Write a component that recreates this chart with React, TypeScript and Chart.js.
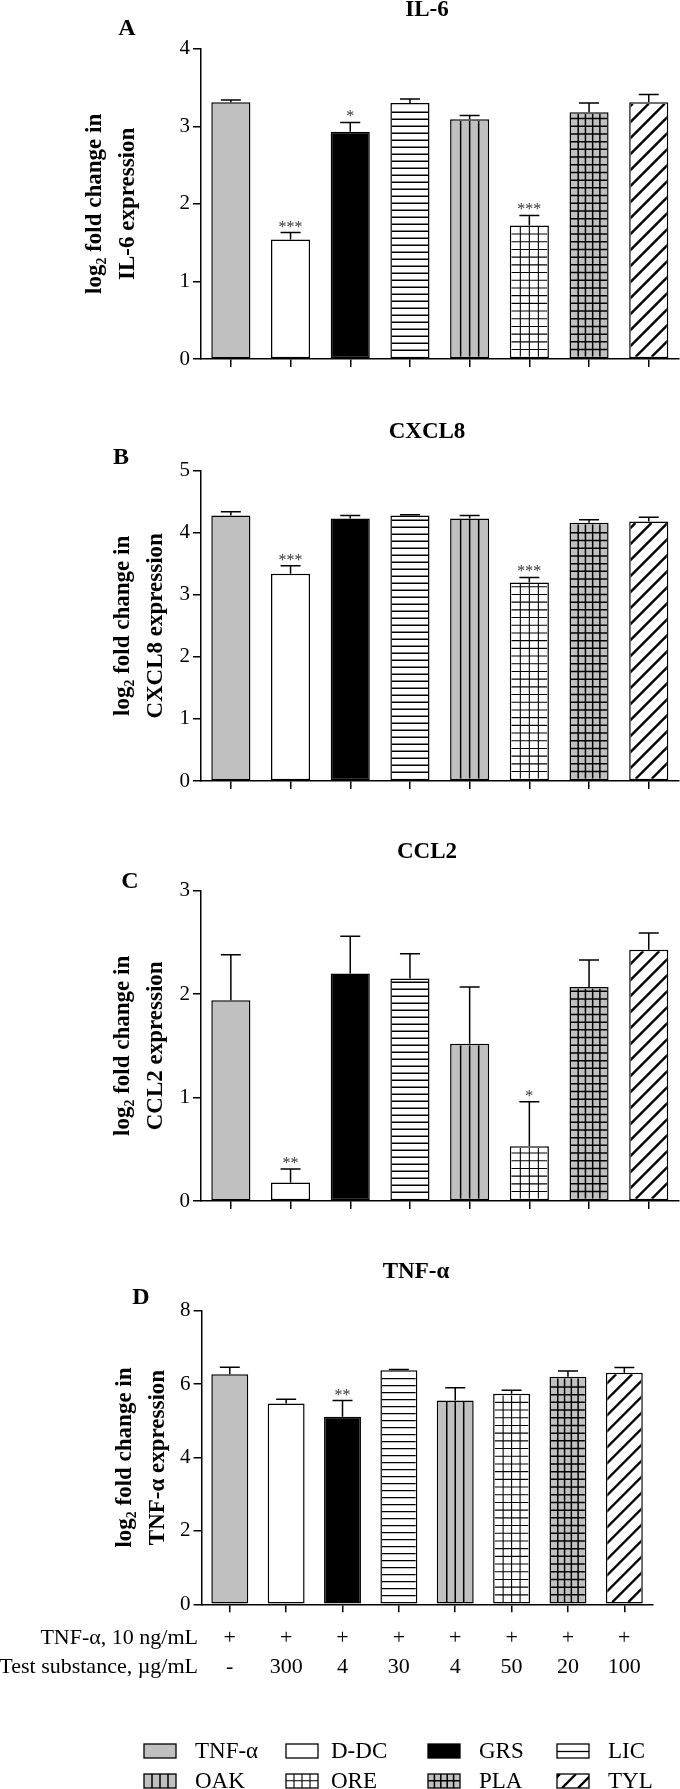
import React, { useEffect, useRef } from "react";
import { Chart, registerables } from "chart.js";

Chart.register(...registerables);

// ---------- data ----------
const categories = ["TNF-α", "D-DC", "GRS", "LIC", "OAK", "ORE", "PLA", "TYL"];

const il6Values = [3.31, 1.54, 2.93, 3.3, 3.09, 1.72, 3.18, 3.31];
const il6Errors = [0.03, 0.09, 0.12, 0.05, 0.05, 0.13, 0.12, 0.1];
const il6Sig = ["", "***", "*", "", "", "***", "", ""];

const cxcl8Values = [4.28, 3.34, 4.23, 4.28, 4.23, 3.2, 4.16, 4.18];
const cxcl8Errors = [0.06, 0.13, 0.05, 0.01, 0.05, 0.08, 0.05, 0.07];
const cxcl8Sig = ["", "***", "", "", "", "***", "", ""];

const ccl2Values = [1.94, 0.18, 2.2, 2.15, 1.52, 0.53, 2.07, 2.43];
const ccl2Errors = [0.44, 0.13, 0.36, 0.24, 0.55, 0.43, 0.26, 0.16];
const ccl2Sig = ["", "**", "", "", "", "*", "", ""];

const tnfValues = [6.27, 5.47, 5.11, 6.38, 5.55, 5.74, 6.2, 6.31];
const tnfErrors = [0.19, 0.12, 0.44, 0.02, 0.35, 0.09, 0.16, 0.14];
const tnfSig = ["", "", "**", "", "", "", "", ""];

const treatmentRow = ["+", "+", "+", "+", "+", "+", "+", "+"];
const doseRow = ["-", "300", "4", "30", "4", "50", "20", "100"];
const rowLabels = ["TNF-α, 10 ng/mL", "Test substance, µg/mL"];

// ---------- styles ----------
const SERIF = "'Liberation Serif', 'Times New Roman', 'DejaVu Serif', serif";
const GRAY = "#c0c0c0";
type Hatch = "none" | "h" | "v" | "grid4" | "grid5" | "diag";
const barFills: { bg: string; hatch: Hatch }[] = [
  { bg: GRAY, hatch: "none" },
  { bg: "#ffffff", hatch: "none" },
  { bg: "#000000", hatch: "none" },
  { bg: "#ffffff", hatch: "h" },
  { bg: GRAY, hatch: "v" },
  { bg: "#ffffff", hatch: "grid4" },
  { bg: GRAY, hatch: "grid5" },
  { bg: "#ffffff", hatch: "diag" },
];

Chart.defaults.font.family = SERIF;

function drawHatch(ctx: CanvasRenderingContext2D, kind: Hatch, l: number, t: number, r: number, b: number) {
  if (kind === "none" || r <= l || b <= t) return;
  const w = r - l;
  ctx.save();
  ctx.beginPath();
  ctx.rect(l, t, w, b - t);
  ctx.clip();
  ctx.strokeStyle = "#000";
  ctx.beginPath();
  if (kind === "h") {
    ctx.lineWidth = 1.3;
    for (let y = b - 6.5; y > t + 1; y -= 7) {
      ctx.moveTo(l, y);
      ctx.lineTo(r, y);
    }
  } else if (kind === "v" || kind === "grid4" || kind === "grid5") {
    const n = kind === "grid5" ? 5 : 4;
    ctx.lineWidth = kind === "grid4" ? 1.1 : 1.5;
    for (let k = 1; k < n; k++) {
      const x = l + (w * k) / n;
      ctx.moveTo(x, t);
      ctx.lineTo(x, b);
    }
    if (kind !== "v") {
      for (let y = b - 7.2; y > t + 1; y -= 7.7) {
        ctx.moveTo(l, y);
        ctx.lineTo(r, y);
      }
    }
  } else if (kind === "diag") {
    ctx.lineWidth = 2.4;
    const h = b - t;
    for (let x0 = l + 5 - Math.ceil(h / 16) * 16; x0 < r; x0 += 16) {
      ctx.moveTo(x0, b);
      ctx.lineTo(x0 + h, t);
    }
  }
  ctx.stroke();
  ctx.restore();
}

interface PanelCfg {
  letter: string;
  title: string;
  yLines: string[];
  values: number[];
  errors: number[];
  sig: string[];
  max: number;
  step: number;
  height: number;
  chartTop: number;
  chartBottom: number;
  yWidth: number;
  padRight: number;
  titleX: number;
  titleY: number;
  letterX: number;
  letterY: number;
  yTitlePad: number;
  footer: boolean;
}

const panels: PanelCfg[] = [
  {
    letter: "A", title: "IL-6", yLines: ["log₂ fold change in", "IL-6 expression"],
    values: il6Values, errors: il6Errors, sig: il6Sig, max: 4, step: 1,
    height: 380, chartTop: 48.7, chartBottom: 359, yWidth: 201, padRight: 1.4,
    titleX: 427, titleY: 10.5, letterX: 127, letterY: 29, yTitlePad: 78.5, footer: false,
  },
  {
    letter: "B", title: "CXCL8", yLines: ["log₂ fold change in", "CXCL8 expression"],
    values: cxcl8Values, errors: cxcl8Errors, sig: cxcl8Sig, max: 5, step: 1,
    height: 420, chartTop: 90.7, chartBottom: 401, yWidth: 201, padRight: 1.4,
    titleX: 427, titleY: 51.7, letterX: 121, letterY: 78, yTitlePad: 107, footer: false,
  },
  {
    letter: "C", title: "CCL2", yLines: ["log₂ fold change in", "CCL2 expression"],
    values: ccl2Values, errors: ccl2Errors, sig: ccl2Sig, max: 3, step: 1,
    height: 420, chartTop: 90.7, chartBottom: 401, yWidth: 201, padRight: 1.4,
    titleX: 427, titleY: 51.7, letterX: 130, letterY: 82, yTitlePad: 107, footer: false,
  },
  {
    letter: "D", title: "TNF-α", yLines: ["log₂ fold change in", "TNF-α expression"],
    values: tnfValues, errors: tnfErrors, sig: tnfSig, max: 8, step: 2,
    height: 569, chartTop: 90.7, chartBottom: 384.3, yWidth: 201.6, padRight: 27.5,
    titleX: 416, titleY: 51.7, letterX: 141, letterY: 78, yTitlePad: 109, footer: true,
  },
];

const LEGEND_COLS = [144, 286, 428, 557];
const LEGEND_TEXT_X = [195, 331, 479, 608];
const LEGEND_ROWS = [531, 561];
const ROW_LABEL_Y = [418, 447];

function Panel({ cfg }: { cfg: PanelCfg }) {
  const ref = useRef<HTMLCanvasElement>(null);
  useEffect(() => {
    const canvas = ref.current;
    if (!canvas) return;

    const decor = {
      id: "decor",
      afterDatasetsDraw(chart: any) {
        const { ctx } = chart;
        const meta = chart.getDatasetMeta(0);
        const yScale = chart.scales.y;
        const data = chart.data.datasets[0].data as number[];
        meta.data.forEach((el: any, i: number) => {
          const { x, y, base, width } = el.getProps(["x", "y", "base", "width"], true);
          const bw = 1.5;
          drawHatch(ctx, barFills[i].hatch, x - width / 2 + bw, y + bw, x + width / 2 - bw, base - bw);
          const top = yScale.getPixelForValue(data[i] + cfg.errors[i]);
          ctx.save();
          ctx.strokeStyle = "#000";
          ctx.lineWidth = 1.5;
          ctx.beginPath();
          ctx.moveTo(x, y);
          ctx.lineTo(x, top);
          ctx.moveTo(x - 10, top);
          ctx.lineTo(x + 10, top);
          ctx.stroke();
          if (cfg.sig[i]) {
            ctx.fillStyle = "#333";
            ctx.font = `16px ${SERIF}`;
            ctx.textAlign = "center";
            ctx.textBaseline = "alphabetic";
            ctx.fillText(cfg.sig[i], x, top - 1);
          }
          ctx.restore();
        });
      },
      afterDraw(chart: any) {
        const { ctx } = chart;
        ctx.save();
        ctx.fillStyle = "#000";
        ctx.textBaseline = "middle";
        ctx.textAlign = "center";
        ctx.font = `bold 23px ${SERIF}`;
        ctx.fillText(cfg.title, cfg.titleX, cfg.titleY);
        ctx.font = `bold 24px ${SERIF}`;
        ctx.fillText(cfg.letter, cfg.letterX, cfg.letterY);
        if (cfg.footer) {
          ctx.font = `22px ${SERIF}`;
          ctx.textAlign = "right";
          rowLabels.forEach((t, k) => ctx.fillText(t, 198, ROW_LABEL_Y[k]));
          // legend
          const labels = chart.data.labels as string[];
          labels.forEach((lab, i) => {
            const col = i % 4;
            const row = Math.floor(i / 4);
            const bx = LEGEND_COLS[col];
            const by = LEGEND_ROWS[row] - 7;
            ctx.fillStyle = barFills[i].bg;
            ctx.fillRect(bx, by, 32, 14);
            drawHatch(ctx, barFills[i].hatch, bx, by, bx + 32, by + 14);
            ctx.strokeStyle = "#000";
            ctx.lineWidth = 1.3;
            ctx.strokeRect(bx, by, 32, 14);
            ctx.fillStyle = "#000";
            ctx.textAlign = "left";
            ctx.font = `23px ${SERIF}`;
            ctx.fillText(lab, LEGEND_TEXT_X[col], LEGEND_ROWS[row] + 1);
          });
        }
        ctx.restore();
      },
    };

    const chart = new Chart(canvas, {
      type: "bar",
      data: {
        labels: categories,
        datasets: [
          {
            data: cfg.values,
            backgroundColor: barFills.map((f) => f.bg),
            borderColor: "#000",
            borderWidth: 1.5,
            borderSkipped: false,
            barPercentage: 0.655,
            categoryPercentage: 1,
          },
        ],
      },
      options: {
        responsive: false,
        animation: false,
        devicePixelRatio: 1,
        layout: { padding: { top: cfg.chartTop, left: 0, right: cfg.padRight, bottom: 0 } },
        plugins: { legend: { display: false }, tooltip: { enabled: false } },
        scales: {
          x: {
            offset: true,
            grid: {
              display: true,
              drawOnChartArea: false,
              drawTicks: true,
              tickLength: 8,
              offset: false,
              color: "#000",
              lineWidth: 1.5,
            },
            border: { display: true, color: "#000", width: 1.5 },
            ticks: cfg.footer
              ? {
                  display: true,
                  autoSkip: false,
                  maxRotation: 0,
                  padding: 11,
                  color: "#000",
                  font: { family: SERIF, size: 22, lineHeight: 29 / 22 },
                  callback: (_v: any, i: number) => [treatmentRow[i], doseRow[i]],
                }
              : { display: false },
            afterFit: (s: any) => {
              s.height = cfg.height - cfg.chartBottom;
            },
          },
          y: {
            min: 0,
            max: cfg.max,
            ticks: {
              stepSize: cfg.step,
              color: "#000",
              padding: 3,
              font: { family: SERIF, size: 21 },
            },
            grid: {
              display: true,
              drawOnChartArea: false,
              drawTicks: true,
              tickLength: 8,
              color: "#000",
              lineWidth: 1.5,
            },
            border: { display: true, color: "#000", width: 1.5 },
            title: {
              display: true,
              text: cfg.yLines,
              color: "#000",
              padding: { top: cfg.yTitlePad, bottom: 0 },
              font: { family: SERIF, size: 23, weight: "bold", lineHeight: 33 / 23 },
            },
            afterFit: (s: any) => {
              s.width = cfg.yWidth;
            },
          },
        },
      } as any,
      plugins: [decor],
    });
    return () => chart.destroy();
  }, [cfg]);
  return (
    <canvas
      ref={ref}
      width={680}
      height={cfg.height}
      style={{ display: "block", width: 680, height: cfg.height }}
    />
  );
}

export default function App() {
  return (
    <div style={{ position: "absolute", left: 0, top: 0, width: 680, height: 1789, background: "#fff" }}>
      {panels.map((p) => (
        <Panel key={p.letter} cfg={p} />
      ))}
    </div>
  );
}
